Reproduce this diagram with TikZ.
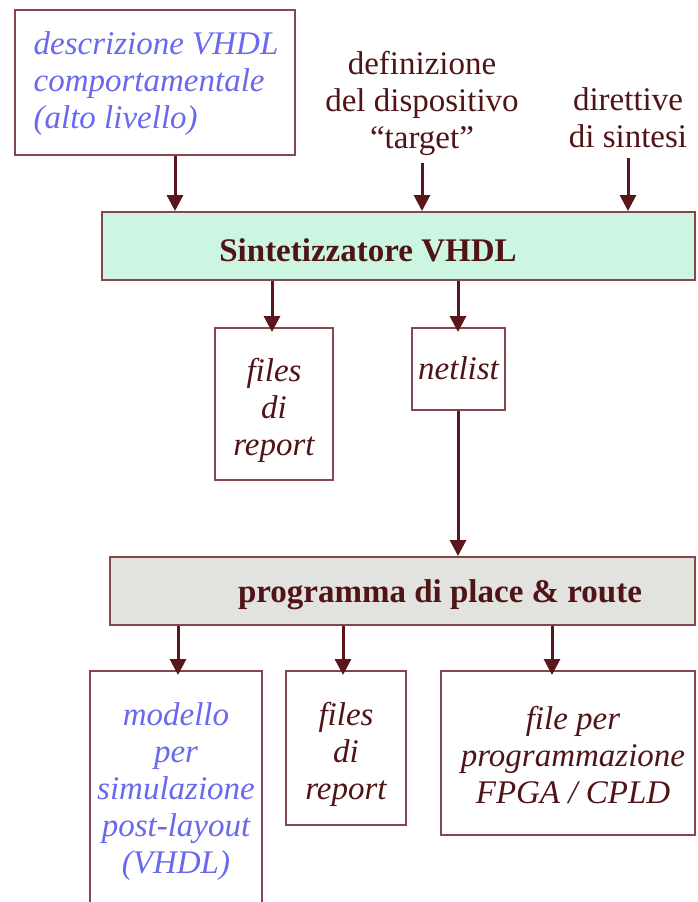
\documentclass[tikz,border=0pt]{standalone}
\usepackage{fontspec}
\setmainfont{Liberation Serif}
\usetikzlibrary{arrows.meta}
\definecolor{txt}{RGB}{80,20,22}
\definecolor{bl}{RGB}{105,105,240}
\definecolor{brd}{RGB}{130,72,76}
\definecolor{arw}{RGB}{90,22,26}
\definecolor{grn}{RGB}{205,246,226}
\definecolor{gry}{RGB}{226,226,223}
\tikzset{
  box/.style={draw=brd, line width=2pt, inner sep=0pt, fill=white},
  lbl/.style={text=txt, font=\fontsize{33}{37}\selectfont, align=center, inner sep=0pt},
  itl/.style={lbl, font=\fontsize{33}{37}\selectfont\itshape},
  bitl/.style={itl, text=bl},
  bld/.style={lbl, font=\fontsize{33}{37}\selectfont\bfseries},
  arr/.style={draw=arw, line width=3pt, -{Triangle[length=16pt,width=16pt]}, shorten >=0pt},
}
\begin{document}
\begin{tikzpicture}[x=1pt,y=-1pt]
\useasboundingbox (0,0) rectangle (697,902);
\begin{scope}
\clip (0,0) rectangle (697,902);
% top input box
\node[box, minimum width=280pt, minimum height=145pt] (desc) at (155,82.5) {};
\node[bitl, align=left] (desct) at (156,84) {descrizione VHDL\\comportamentale\\(alto livello)};
\node[lbl] (def) at (422,103) {definizione\\del dispositivo\\“target”};
\node[lbl] (dir) at (628,118) {direttive\\di sintesi};
% synthesizer
\node[box, fill=grn, minimum width=593pt, minimum height=68pt] (synth) at (398.5,246) {};
\node[bld] (syntht) at (368,250) {Sintetizzatore VHDL};
% outputs of synthesis
\node[box, minimum width=118pt, minimum height=152pt] (rep1) at (274,404) {};
\node[itl] (rep1t) at (274,410) {files\\di\\report};
\node[box, minimum width=93pt, minimum height=82pt] (net) at (458.5,369) {};
\node[itl] (nett) at (458.5,368) {netlist};
% place & route
\node[box, fill=gry, minimum width=585pt, minimum height=68pt] (pr) at (402.5,591) {};
\node[bld] (prt) at (440,595) {programma di place \& route};
% outputs of P&R
\node[box, minimum width=172pt, minimum height=240pt] (mod) at (176,791) {};
\node[bitl] (modt) at (176,792) {modello\\per\\simulazione\\post-layout\\(VHDL)};
\node[box, minimum width=120pt, minimum height=154pt] (rep2) at (346,748) {};
\node[itl] (rep2t) at (346,754) {files\\di\\report};
\node[box, minimum width=254pt, minimum height=164pt] (fpga) at (568,753) {};
\node[itl] (fpgat) at (573,755) {file per\\programmazione\\FPGA / CPLD};
% coordinates for arrow columns
\coordinate (c1) at (175,0);
\coordinate (c2) at (272,0);
\coordinate (c3) at (178,0);
\coordinate (c4) at (343,0);
\coordinate (c5) at (552,0);
\coordinate (c6) at (422,0);
\coordinate (c7) at (628,0);
\coordinate (c8) at (458,0);
% arrows
\draw[arr] (desc.south -| c1) -- (synth.north -| c1);
\draw[arr] ([yshift=-8pt]def.south -| c6) -- (synth.north -| c6);
\draw[arr] ([yshift=-10pt]dir.south -| c7) -- (synth.north -| c7);
\draw[arr] (synth.south -| c2) -- ([yshift=-5pt]rep1.north -| c2);
\draw[arr] (synth.south -| c8) -- ([yshift=-5pt]net.north -| c8);
\draw[arr] (net.south -| c8) -- (pr.north -| c8);
\draw[arr] (pr.south -| c3) -- ([yshift=-5pt]mod.north -| c3);
\draw[arr] (pr.south -| c4) -- ([yshift=-5pt]rep2.north -| c4);
\draw[arr] (pr.south -| c5) -- ([yshift=-5pt]fpga.north -| c5);
\end{scope}
\end{tikzpicture}
\end{document}
